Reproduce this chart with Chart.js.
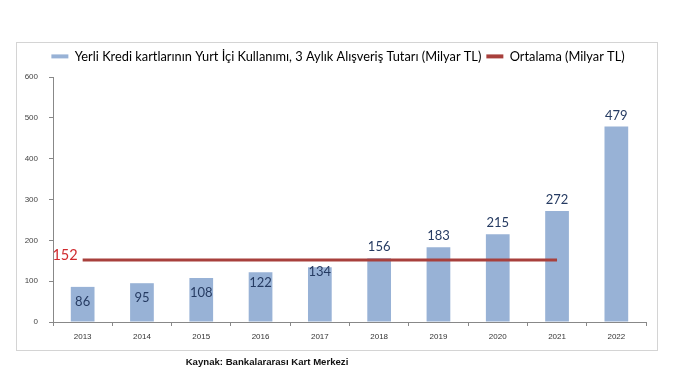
<!DOCTYPE html>
<html>
<head>
<meta charset="utf-8">
<script src="https://cdn.jsdelivr.net/npm/chart.js@4"></script>
<style>
  body { margin: 0; background: #fff; }
  #wrap { width: 680px; height: 380px; }
</style>
</head>
<body>
<div id="wrap"><canvas id="myChart" width="680" height="380"></canvas></div>
<script>
let years = ['2013', '2014', '2015', '2016', '2017', '2018', '2019', '2020', '2021', '2022'];
let spending = [86, 95, 108, 122, 134, 156, 183, 215, 272, 479];
let average = [152, 152, 152, 152, 152, 152, 152, 152, 152, null];
let averageLabel = '152';
let yTicks = [0, 100, 200, 300, 400, 500, 600];
let barLabel = 'Yerli Kredi kartlarının Yurt İçi Kullanımı, 3 Aylık Alışveriş Tutarı (Milyar TL)';
let lineLabel = 'Ortalama (Milyar TL)';
let source = 'Kaynak: Bankalararası Kart Merkezi';

let barColor = '#98b2d6';
let lineColor = '#a8403c';

// where the number sits against the top of the bar (small bars inside, tall ones above)
function labelOffset(v) {
    if (v <= 110) return 15;
    if (v >= 150) return -11;
    if (v <= 122) return 15 - (v - 110) * 4 / 12;
    if (v <= 134) return 11 - (v - 122) * 6 / 12;
    return 5 - (v - 134) * 16 / 16;
}

const decor = {
    id: 'decor',
    beforeDraw(chart) {
        let ctx = chart.ctx;
        // legend centred on the frame, not on the padded box
        chart.legend.left = 17;
        chart.legend.right = 659;
        ctx.save();
        ctx.strokeStyle = '#d4d4d4';
        ctx.lineWidth = 1;
        ctx.strokeRect(16.5, 42.5, 641, 308);
        ctx.fillStyle = '#111';
        ctx.font = 'bold 9.6px "Liberation Sans", Arial, sans-serif';
        ctx.textAlign = 'center';
        ctx.textBaseline = 'middle';
        ctx.fillText(source, 267, 362);
        ctx.restore();
    },
    afterDatasetsDraw(chart) {
        let ctx = chart.ctx;
        let bars = chart.getDatasetMeta(1).data;
        ctx.save();
        ctx.font = '13px Lato, sans-serif';
        ctx.fillStyle = '#263b62';
        ctx.textAlign = 'center';
        ctx.textBaseline = 'middle';
        bars.forEach((bar, i) => {
            let v = spending[i];
            ctx.fillText(String(v), bar.x, bar.y + labelOffset(v));
        });
        // average value at the left end of the line
        let first = chart.getDatasetMeta(0).data[0];
        ctx.font = '14.5px Lato, sans-serif';
        ctx.fillStyle = '#d02a2e';
        ctx.textAlign = 'right';
        ctx.fillText(averageLabel, first.x - 5, first.y - 5);
        ctx.restore();
    }
};

new Chart(document.getElementById('myChart'), {
    data: {
        labels: years,
        datasets: [{
            type: 'line',
            label: lineLabel,
            data: average,
            borderColor: lineColor,
            backgroundColor: lineColor,
            borderWidth: 3,
            pointRadius: 0,
            fill: false,
            order: 0
        }, {
            type: 'bar',
            label: barLabel,
            data: spending,
            backgroundColor: barColor,
            barPercentage: 0.8,
            categoryPercentage: 0.5,
            order: 1
        }]
    },
    options: {
        responsive: false,
        animation: false,
        layout: { padding: { left: 13, right: 34, top: 45, bottom: 30 } },
        plugins: {
            tooltip: { enabled: false },
            legend: {
                position: 'top',
                labels: {
                    boxWidth: 17,
                    boxHeight: 4,
                    padding: 5,
                    color: '#1e1e1e',
                    font: { family: 'Lato', size: 12.8 },
                    generateLabels: function (chart) {
                        return [
                            { text: barLabel, fillStyle: barColor, strokeStyle: barColor, lineWidth: 0, datasetIndex: 1 },
                            { text: lineLabel, fillStyle: lineColor, strokeStyle: lineColor, lineWidth: 0, datasetIndex: 0 }
                        ];
                    }
                }
            }
        },
        scales: {
            x: {
                grid: { display: true, drawOnChartArea: false, tickLength: 4, color: '#888', offset: true },
                border: { color: '#888' },
                ticks: { color: '#333', padding: 6, font: { family: 'Liberation Sans', size: 8 } },
                afterFit: function (scale) { scale.height = 28; }
            },
            y: {
                min: 0,
                max: 600,
                afterBuildTicks: function (scale) { scale.ticks = yTicks.map(v => ({ value: v })); },
                grid: { display: true, drawOnChartArea: false, tickLength: 4, color: '#888' },
                border: { color: '#888' },
                ticks: { color: '#444', padding: 11, font: { family: 'Liberation Sans', size: 8 } },
                afterFit: function (scale) { scale.width = 40; }
            }
        }
    },
    plugins: [decor, {
        id: 'legendHeight',
        afterInit(chart) {
            let legend = chart.legend;
            let origFit = legend.fit;
            legend.fit = function () {
                origFit.call(this);
                this.height = 32;
            };
        }
    }]
});
</script>
</body>
</html>
